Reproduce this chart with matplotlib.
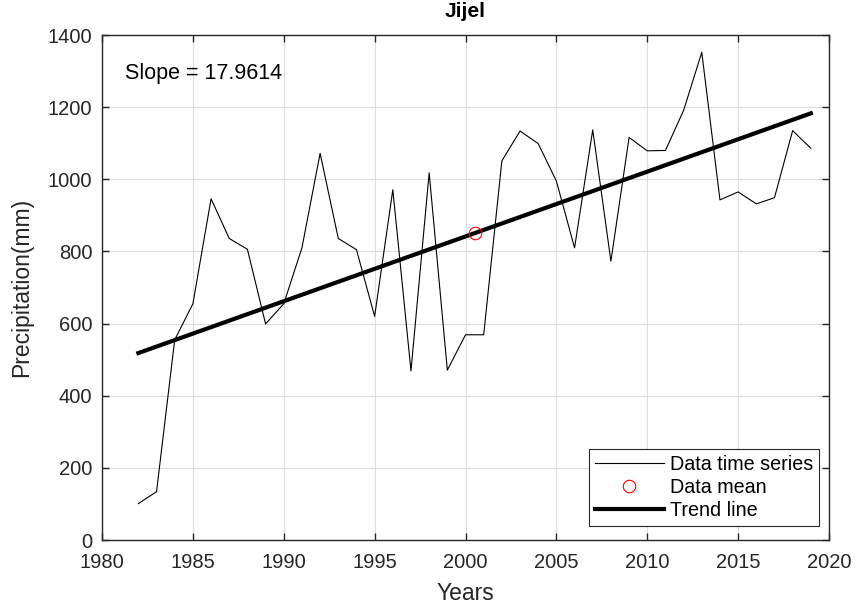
import numpy as np
import matplotlib
matplotlib.use("Agg")
import matplotlib.pyplot as plt

# Annual precipitation at Jijel (mm)
years = list(range(1982, 2020))
precip = [101, 134, 555, 655, 946, 836, 806, 599, 655, 810,
          1072, 836, 805, 620, 971, 469, 1018, 471, 569, 569,
          1051, 1134, 1099, 995, 810, 1137, 773, 1116, 1079, 1080,
          1191, 1352, 943, 965, 932, 949, 1135, 1086]
slope = 17.9614
station = "Jijel"

plt.rcParams['font.family'] = ['Liberation Sans', 'DejaVu Sans']

x = np.array(years, dtype=float)
y = np.array(precip, dtype=float)
x_mean, y_mean = x.mean(), y.mean()
trend = y_mean + slope * (x - x_mean)

fig = plt.figure(figsize=(8.58, 6.05), dpi=100)
ax = fig.add_axes([0.1189, 0.1074, 0.8473, 0.8347])

ax.plot(x, y, color='black', linewidth=0.8, label='Data time series', zorder=3)
ax.plot([x_mean], [y_mean], 'o', markersize=9, markerfacecolor='none',
        markeredgecolor='red', markeredgewidth=0.8, label='Data mean', zorder=4)
ax.plot(x, trend, color='black', linewidth=3, label='Trend line', zorder=3)

ax.set_xlim(1980, 2020)
ax.set_ylim(0, 1400)
ax.set_xticks(np.arange(1980, 2021, 5))
ax.set_yticks(np.arange(0, 1401, 200))
ax.grid(True, color='#dcdcdc', linewidth=0.8)
ax.set_axisbelow(True)
ax.tick_params(direction='in', length=5, width=1, top=True, right=True,
               labelsize=14.5, colors='#262626')
ax.tick_params(axis='x', pad=9)
ax.tick_params(axis='y', pad=7)
for s in ax.spines.values():
    s.set_linewidth(1)
    s.set_color('#262626')

ax.set_title(station, fontsize=15, fontweight='bold', pad=13)
ax.set_xlabel('Years', fontsize=16.5, color='#262626')
ax.xaxis.set_label_coords(0.5, -0.0826)
ax.set_ylabel('Precipitation(mm)', fontsize=16.5, color='#262626')
ax.yaxis.label.set_va('center')
ax.yaxis.set_label_coords(-0.110, 0.5)

ax.text(1981.27, 1292, f'Slope = {slope:.4f}', fontsize=15.5, va='center', ha='left')

leg = ax.legend(loc='lower right', bbox_to_anchor=(0.9862, 0.0277),
                fontsize=14.2, handlelength=3.5,
                fancybox=False, framealpha=1, edgecolor='#262626',
                borderaxespad=0, borderpad=0.3, labelspacing=0.2,
                handletextpad=0.3)
leg.get_frame().set_linewidth(0.8)

fig.savefig('out.png', dpi=100)
